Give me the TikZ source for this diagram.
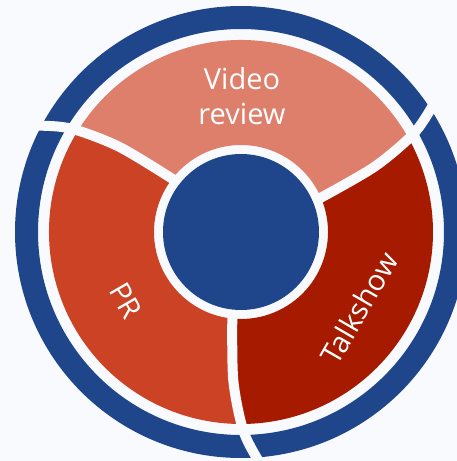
\documentclass[tikz,border=0pt]{standalone}
\usepackage{fontspec}
\usepackage{xcolor}
\usepackage{tikz}
\newfontfamily\wheelfont{Open Sans}

\definecolor{bgcol}{HTML}{F8FAFD}
\definecolor{ringblue}{HTML}{1F458A}
\definecolor{videocol}{HTML}{DE7F6B}
\definecolor{prcol}{HTML}{CB4225}
\definecolor{talkcol}{HTML}{A61B00}

\tikzset{
  sectorlabel/.style={text=white, font=\wheelfont\fontsize{29}{35}\selectfont, align=center, inner sep=0pt},
  gapline/.style={draw=bgcol, line width=10pt}
}

\begin{document}
\begin{tikzpicture}[x=1pt,y=1pt]
            \fill[bgcol] (-241,-229) rectangle (216,232);
            \useasboundingbox (-241,-229) rectangle (216,232);

            \fill[ringblue, even odd rule] (0,0) circle(226) (0,0) circle(203);

            \foreach \a/\b/\c in {23/142/videocol, 142/264/prcol, 264/383/talkcol} {
                \fill[\c] (\a:87) -- ({\a+3}:148) -- ({\a+6.2}:192)
                    arc[start angle=\a+6.2, end angle=\b+6.2, radius=192]
                    -- ({\b+3}:148) -- (\b:87)
                    arc[start angle=\b, end angle=\a, radius=87] -- cycle;
            }

            \foreach \a in {23,142,264} {
                \draw[gapline] plot[smooth] coordinates
                    {(\a:83) ({\a+3}:148) ({\a+6.6}:198) ({\a+10.3}:229) ({\a+12.5}:245)};
            }

            \fill[ringblue] (0,0) circle(78);

            \node[sectorlabel] (video) at (1,136) {Video\\review};
            \node[sectorlabel, rotate=-60] (pr) at (-115,-69) {PR};
            \node[sectorlabel, rotate=60] (talk) at (118,-76) {Talkshow};
        \end{tikzpicture}
\end{document}
